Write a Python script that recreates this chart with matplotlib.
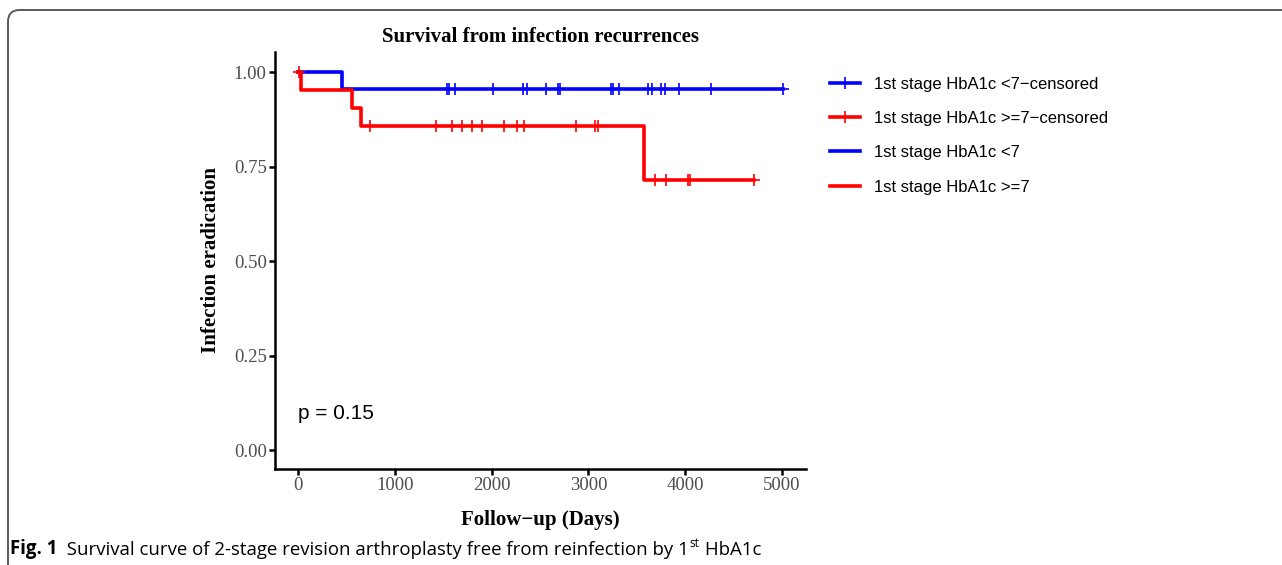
import numpy as np
import matplotlib
matplotlib.use("Agg")
import matplotlib.pyplot as plt
from matplotlib.lines import Line2D
from matplotlib.patches import FancyBboxPatch

# step curves (Kaplan-Meier estimates)
low_times = [0, 451, 5010]
low_surv = [1.0, 0.955, 0.955]
high_times = [0, 31, 558, 655, 3576, 4716]
high_surv = [1.0, 0.952, 0.905, 0.857, 0.714, 0.714]

# censoring times
low_cens = [1538, 1563, 1624, 2019, 2322, 2368, 2561, 2689, 2710, 3230, 3258,
            3316, 3619, 3658, 3754, 3789, 3936, 4271, 5010]
high_cens = [10, 744, 1428, 1588, 1691, 1798, 1898, 2133, 2265, 2336, 2874,
             3070, 3095, 3690, 3800, 4025, 4046, 4716]

labels = ["1st stage HbA1c <7\u2212censored", "1st stage HbA1c >=7\u2212censored",
          "1st stage HbA1c <7", "1st stage HbA1c >=7"]
y_ticks = [0.0, 0.25, 0.5, 0.75, 1.0]
x_ticks = [0, 1000, 2000, 3000, 4000, 5000]

BLUE = "#0000ff"
RED = "#ff0000"
serif = "Liberation Serif"
sans = "Liberation Sans"


def surv_at(times, surv, t):
    idx = np.searchsorted(times, t, side="right") - 1
    return np.array(surv)[idx]


fig = plt.figure(figsize=(12.82, 5.65), dpi=100)
ax = fig.add_axes([0.2145, 0.170, 0.4142, 0.738])

ax.step(low_times, low_surv, where="post", color=BLUE, lw=2.6)
ax.step(high_times, high_surv, where="post", color=RED, lw=2.6)
ax.plot(low_cens, surv_at(low_times, low_surv, low_cens), ls="none",
        marker="+", ms=8, mew=1.2, color=BLUE)
ax.plot(high_cens, surv_at(high_times, high_surv, high_cens), ls="none",
        marker="+", ms=8, mew=1.2, color=RED)

ax.set_xlim(-238, 5248)
ax.set_ylim(-0.05, 1.053)
ax.set_xticks(x_ticks)
ax.set_yticks(y_ticks)
ax.set_yticklabels(["%.2f" % v for v in y_ticks])
for s in ["top", "right"]:
    ax.spines[s].set_visible(False)
for s in ["left", "bottom"]:
    ax.spines[s].set_linewidth(1.8)
ax.tick_params(axis="both", length=4, width=1.8, color="black",
               labelsize=13.5, labelcolor="#4d4d4d", pad=2)
for lab in ax.get_xticklabels() + ax.get_yticklabels():
    lab.set_family(serif)

ax.set_title("Survival from infection recurrences", fontsize=15,
             fontweight="bold", family=serif, pad=7)
ax.set_xlabel("Follow\u2212up (Days)", fontsize=15, fontweight="bold",
              family=serif, labelpad=11)
ax.set_ylabel("Infection eradication", fontsize=15, fontweight="bold",
              family=serif, labelpad=9)
ax.text(0, 0.097, "p = 0.15", fontsize=15, family=sans, ha="left", va="center")

handles = [
    Line2D([], [], color=BLUE, lw=2.6, marker="+", ms=8, mew=1.2),
    Line2D([], [], color=RED, lw=2.6, marker="+", ms=8, mew=1.2),
    Line2D([], [], color=BLUE, lw=2.6),
    Line2D([], [], color=RED, lw=2.6),
]
ax.legend(handles, labels, loc="upper left", bbox_to_anchor=(0.636, 0.891),
          bbox_transform=fig.transFigure, frameon=False, handlelength=1.75,
          handletextpad=0.85, labelspacing=1.16,
          prop={"family": sans, "size": 12})

# rounded frame of the figure panel
frame = FancyBboxPatch((8 / 1282, -0.2), 1.2, 1.2 - 10 / 565,
                       boxstyle="round,pad=0,rounding_size=0.009",
                       transform=fig.transFigure, fill=False,
                       edgecolor="#5a5a5a", lw=1.4, mutation_aspect=2.27)
fig.patches.append(frame)

# caption
t1 = fig.text(10 / 1282, 1 - 549 / 565, "Fig. 1", fontsize=13.4,
              fontweight="bold", family="Open Sans", va="center", ha="left")
t2 = ax.annotate("  Survival curve of 2-stage revision arthroplasty free "
                 "from reinfection by 1", xy=(1, 0), xycoords=t1,
                 va="bottom", ha="left", fontsize=13.4, family="Open Sans",
                 annotation_clip=False)
t3 = ax.annotate("st", xy=(1, 0.5), xycoords=t2, va="bottom", ha="left",
                 fontsize=8.5, family="Open Sans", annotation_clip=False)
t4 = ax.annotate(" HbA1c", xy=(1, 0), xycoords=t2, xytext=(11, 0),
                 textcoords="offset pixels", va="bottom", ha="left",
                 fontsize=13.4, family="Open Sans", annotation_clip=False)

fig.savefig("out.png", dpi=100)
